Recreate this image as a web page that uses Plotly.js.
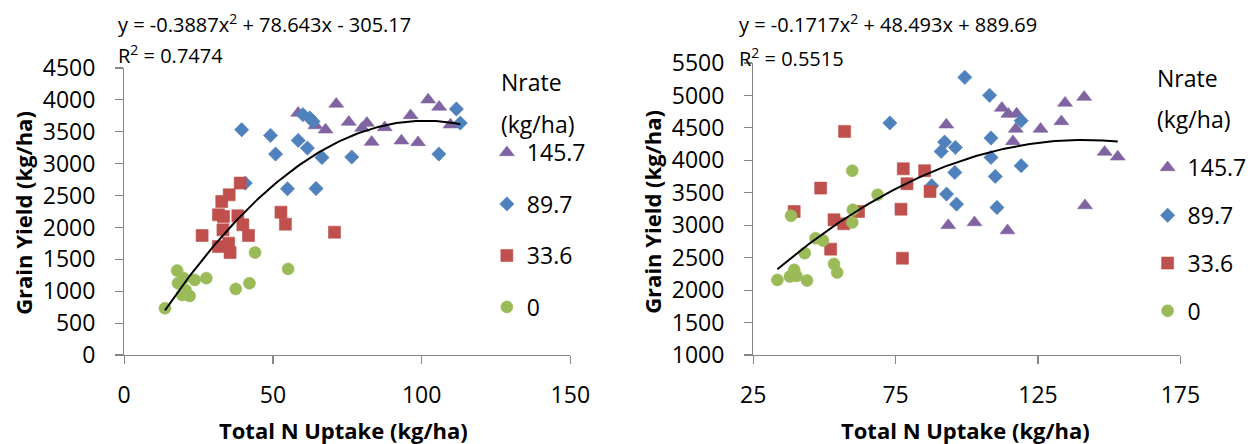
<!DOCTYPE html>
<html>
<head>
<meta charset="utf-8">
<script src="https://cdn.plot.ly/plotly-3.0.1.min.js"></script>
<style>html,body{margin:0;padding:0;background:#fff;}#chart{width:1252px;height:444px;}</style>
</head>
<body>
<div id="chart"></div>
<script>
// ---------- Data ----------
var nrateLabels = ["145.7", "89.7", "33.6", "0"];
var colors = ["#8064A2", "#4F81BD", "#C0504D", "#9BBB59"];
var symbols = ["triangle-up", "diamond", "square", "circle"];
var sizes = [13, 11, 12, 12];

// Left panel: Total N uptake (kg/ha) vs grain yield (kg/ha)
var leftX145 = [58.5, 64.3, 67.7, 71.3, 75.5, 80.0, 81.6, 83.2, 87.6, 93.2, 96.3, 98.8, 102.2, 105.9, 109.7];
var leftY145 = [3794, 3598, 3532, 3936, 3653, 3559, 3637, 3339, 3568, 3360, 3757, 3333, 4003, 3889, 3611];
var leftX89 = [39.5, 40.7, 49.2, 50.9, 58.5, 61.6, 64.5, 54.9, 60.1, 62.4, 63.5, 66.5, 76.5, 105.8, 111.7, 113.0];
var leftY89 = [3532, 2695, 3443, 3151, 3364, 3245, 2611, 2606, 3768, 3716, 3663, 3097, 3104, 3151, 3857, 3637];
var leftX33 = [26.2, 31.7, 35.1, 35.6, 31.7, 33.4, 33.2, 32.8, 35.3, 39.0, 38.2, 39.9, 41.8, 52.7, 54.2, 70.7];
var leftY33 = [1873, 1700, 1754, 1606, 2198, 2171, 1962, 2407, 2512, 2695, 2182, 2041, 1873, 2240, 2052, 1926];
var leftX0 = [13.7, 17.8, 18.1, 20.0, 20.6, 19.5, 22.0, 23.7, 27.6, 37.5, 42.1, 44.0, 55.1];
var leftY0 = [733, 1323, 1126, 1204, 1020, 942, 926, 1177, 1204, 1036, 1126, 1606, 1350];
var leftFit = [-0.3887, 78.643, -305.17];   // a, b, c of y = a x^2 + b x + c
var leftR2 = "0.7474";

// Right panel
var rightX145 = [92.8, 93.5, 102.7, 112.3, 114.6, 117.5, 117.2, 116.2, 125.9, 133.2, 134.5, 141.2, 114.3, 141.5, 148.4, 153.0];
var rightY145 = [4549, 2998, 3042, 4807, 4714, 4719, 4483, 4292, 4483, 4600, 4884, 4975, 2918, 3304, 4128, 4055];
var rightX89 = [73.0, 92.2, 91.0, 96.0, 87.7, 92.9, 99.3, 108.0, 108.5, 119.1, 95.8, 108.5, 110.0, 119.1, 96.4, 110.6];
var rightY89 = [4576, 4282, 4137, 4199, 3608, 3480, 5279, 5002, 4344, 4611, 3813, 4045, 3752, 3917, 3325, 3273];
var rightX33 = [39.4, 48.7, 57.1, 53.4, 56.8, 52.2, 62.0, 77.7, 79.0, 76.9, 77.4, 85.2, 87.1];
var rightY33 = [3211, 3572, 4446, 3083, 3022, 2631, 3211, 3870, 3639, 3248, 2492, 3840, 3520];
var rightX0 = [33.5, 37.9, 39.4, 40.2, 43.9, 38.3, 43.1, 46.9, 49.5, 53.4, 54.5, 59.8, 60.0, 59.8, 68.7];
var rightY0 = [2157, 2208, 2312, 2219, 2147, 3145, 2569, 2801, 2764, 2404, 2270, 3042, 3238, 3840, 3469];
var rightFit = [-0.1717, 48.493, 889.69];
var rightR2 = "0.5515";

var xTitle = "Total N Uptake (kg/ha)";
var yTitle = "Grain Yield (kg/ha)";
var legendTitle1 = "Nrate";
var legendTitle2 = "(kg/ha)";

// ---------- Build ----------
var FONT = "Open Sans, Liberation Sans, Arial, sans-serif";
var W = 1252, H = 444;
function py(p) { return 1 - p / H; }
function px(p) { return p / W; }

function fitCurve(xsAll, coef) {
  var lo = Math.min.apply(null, xsAll), hi = Math.max.apply(null, xsAll);
  var xs = [], ys = [];
  for (var i = 0; i <= 120; i++) {
    var x = lo + (hi - lo) * i / 120;
    xs.push(x);
    ys.push(coef[0] * x * x + coef[1] * x + coef[2]);
  }
  return {x: xs, y: ys};
}
function fmtEq(coef) {
  function term(v, first) {
    var s = Math.abs(v).toString();
    if (first) return (v < 0 ? "-" : "") + s;
    return (v < 0 ? " - " : " + ") + s;
  }
  return "y = " + term(coef[0], true) + "x<sup>2</sup>" + term(coef[1]) + "x" + term(coef[2]);
}

var traces = [];
function addPanel(xs, ys, coef, xa, ya, leg, prefix) {
  for (var k = 0; k < 4; k++) {
    traces.push({
      type: "scatter", mode: "markers", x: xs[k], y: ys[k],
      xaxis: xa, yaxis: ya, name: nrateLabels[k],
      legend: leg, legendgroup: prefix + k,
      marker: {symbol: symbols[k], size: sizes[k], color: colors[k], line: {width: 0.6, color: colors[k]}},
      hoverinfo: "x+y"
    });
  }
  var all = [].concat(xs[0], xs[1], xs[2], xs[3]);
  var c = fitCurve(all, coef);
  traces.push({type: "scatter", mode: "lines", x: c.x, y: c.y, xaxis: xa, yaxis: ya,
    line: {color: "#000000", width: 2}, showlegend: false, hoverinfo: "skip"});
}
addPanel([leftX145, leftX89, leftX33, leftX0], [leftY145, leftY89, leftY33, leftY0], leftFit, "x", "y", "legend", "L");
addPanel([rightX145, rightX89, rightX33, rightX0], [rightY145, rightY89, rightY33, rightY0], rightFit, "x2", "y2", "legend2", "R");

var axisCommon = {
  showgrid: false, zeroline: false, showline: true, linecolor: "#868686", linewidth: 1.2,
  ticks: "outside", ticklen: 8, tickcolor: "#868686", tickwidth: 1.2,
  tickfont: {family: FONT, size: 23, color: "#000"}, automargin: false, fixedrange: true
};
function ax(extra) { return Object.assign({}, axisCommon, extra); }

var legendCommon = {
  font: {family: FONT, size: 23, color: "#000"}, bgcolor: "rgba(0,0,0,0)",
  traceorder: "grouped", itemclick: false, itemdoubleclick: false,
  xanchor: "left", yanchor: "top"
};

var annFont = {family: FONT, size: 20, color: "#000"};
var legTitleFont = {family: FONT, size: 23, color: "#000"};
var titleFont = {family: FONT, size: 22, color: "#000", weight: "bold"};

var layout = {
  width: W, height: H, margin: {l: 0, r: 0, t: 0, b: 0},
  paper_bgcolor: "#fff", plot_bgcolor: "#fff", showlegend: true,
  xaxis: ax({domain: [px(125), px(574)], range: [0, 150], dtick: 50, tick0: 0, anchor: "y", ticklabelstandoff: 11}),
  yaxis: ax({domain: [py(355), py(68)], range: [0, 4500], dtick: 500, tick0: 0, anchor: "x", ticklabelstandoff: 15}),
  xaxis2: ax({domain: [px(758), px(1188)], range: [25, 175], dtick: 50, tick0: 25, anchor: "y2", ticklabelstandoff: 11}),
  yaxis2: ax({domain: [py(355), py(63)], range: [1000, 5500], dtick: 500, tick0: 1000, anchor: "x2", ticklabelstandoff: 15}),
  legend: Object.assign({}, legendCommon, {x: px(490), y: py(131), tracegroupgap: 18.6}),
  legend2: Object.assign({}, legendCommon, {x: px(1155), y: py(146), tracegroupgap: 14.9}),
  annotations: [
    {text: fmtEq(leftFit), x: px(117), y: py(23), xref: "paper", yref: "paper", xanchor: "left", yanchor: "middle", showarrow: false, font: annFont},
    {text: "R<sup>2</sup> = " + leftR2, x: px(117), y: py(55), xref: "paper", yref: "paper", xanchor: "left", yanchor: "middle", showarrow: false, font: annFont},
    {text: fmtEq(rightFit), x: px(742), y: py(23), xref: "paper", yref: "paper", xanchor: "left", yanchor: "middle", showarrow: false, font: annFont},
    {text: "R<sup>2</sup> = " + rightR2, x: px(742), y: py(57), xref: "paper", yref: "paper", xanchor: "left", yanchor: "middle", showarrow: false, font: annFont},
    {text: xTitle, x: px(346), y: py(430), xref: "paper", yref: "paper", xanchor: "center", yanchor: "middle", showarrow: false, font: titleFont},
    {text: xTitle, x: px(972), y: py(430), xref: "paper", yref: "paper", xanchor: "center", yanchor: "middle", showarrow: false, font: titleFont},
    {text: yTitle, x: px(23), y: py(213), xref: "paper", yref: "paper", xanchor: "center", yanchor: "middle", textangle: -90, showarrow: false, font: titleFont},
    {text: yTitle, x: px(656), y: py(212), xref: "paper", yref: "paper", xanchor: "center", yanchor: "middle", textangle: -90, showarrow: false, font: titleFont},
    {text: legendTitle1, x: px(502), y: py(82), xref: "paper", yref: "paper", xanchor: "left", yanchor: "middle", showarrow: false, font: legTitleFont},
    {text: legendTitle2, x: px(502), y: py(124), xref: "paper", yref: "paper", xanchor: "left", yanchor: "middle", showarrow: false, font: legTitleFont},
    {text: legendTitle1, x: px(1162), y: py(78), xref: "paper", yref: "paper", xanchor: "left", yanchor: "middle", showarrow: false, font: legTitleFont},
    {text: legendTitle2, x: px(1162), y: py(119), xref: "paper", yref: "paper", xanchor: "left", yanchor: "middle", showarrow: false, font: legTitleFont}
  ]
};

Plotly.newPlot("chart", traces, layout, {displayModeBar: false, staticPlot: true});
</script>
</body>
</html>
